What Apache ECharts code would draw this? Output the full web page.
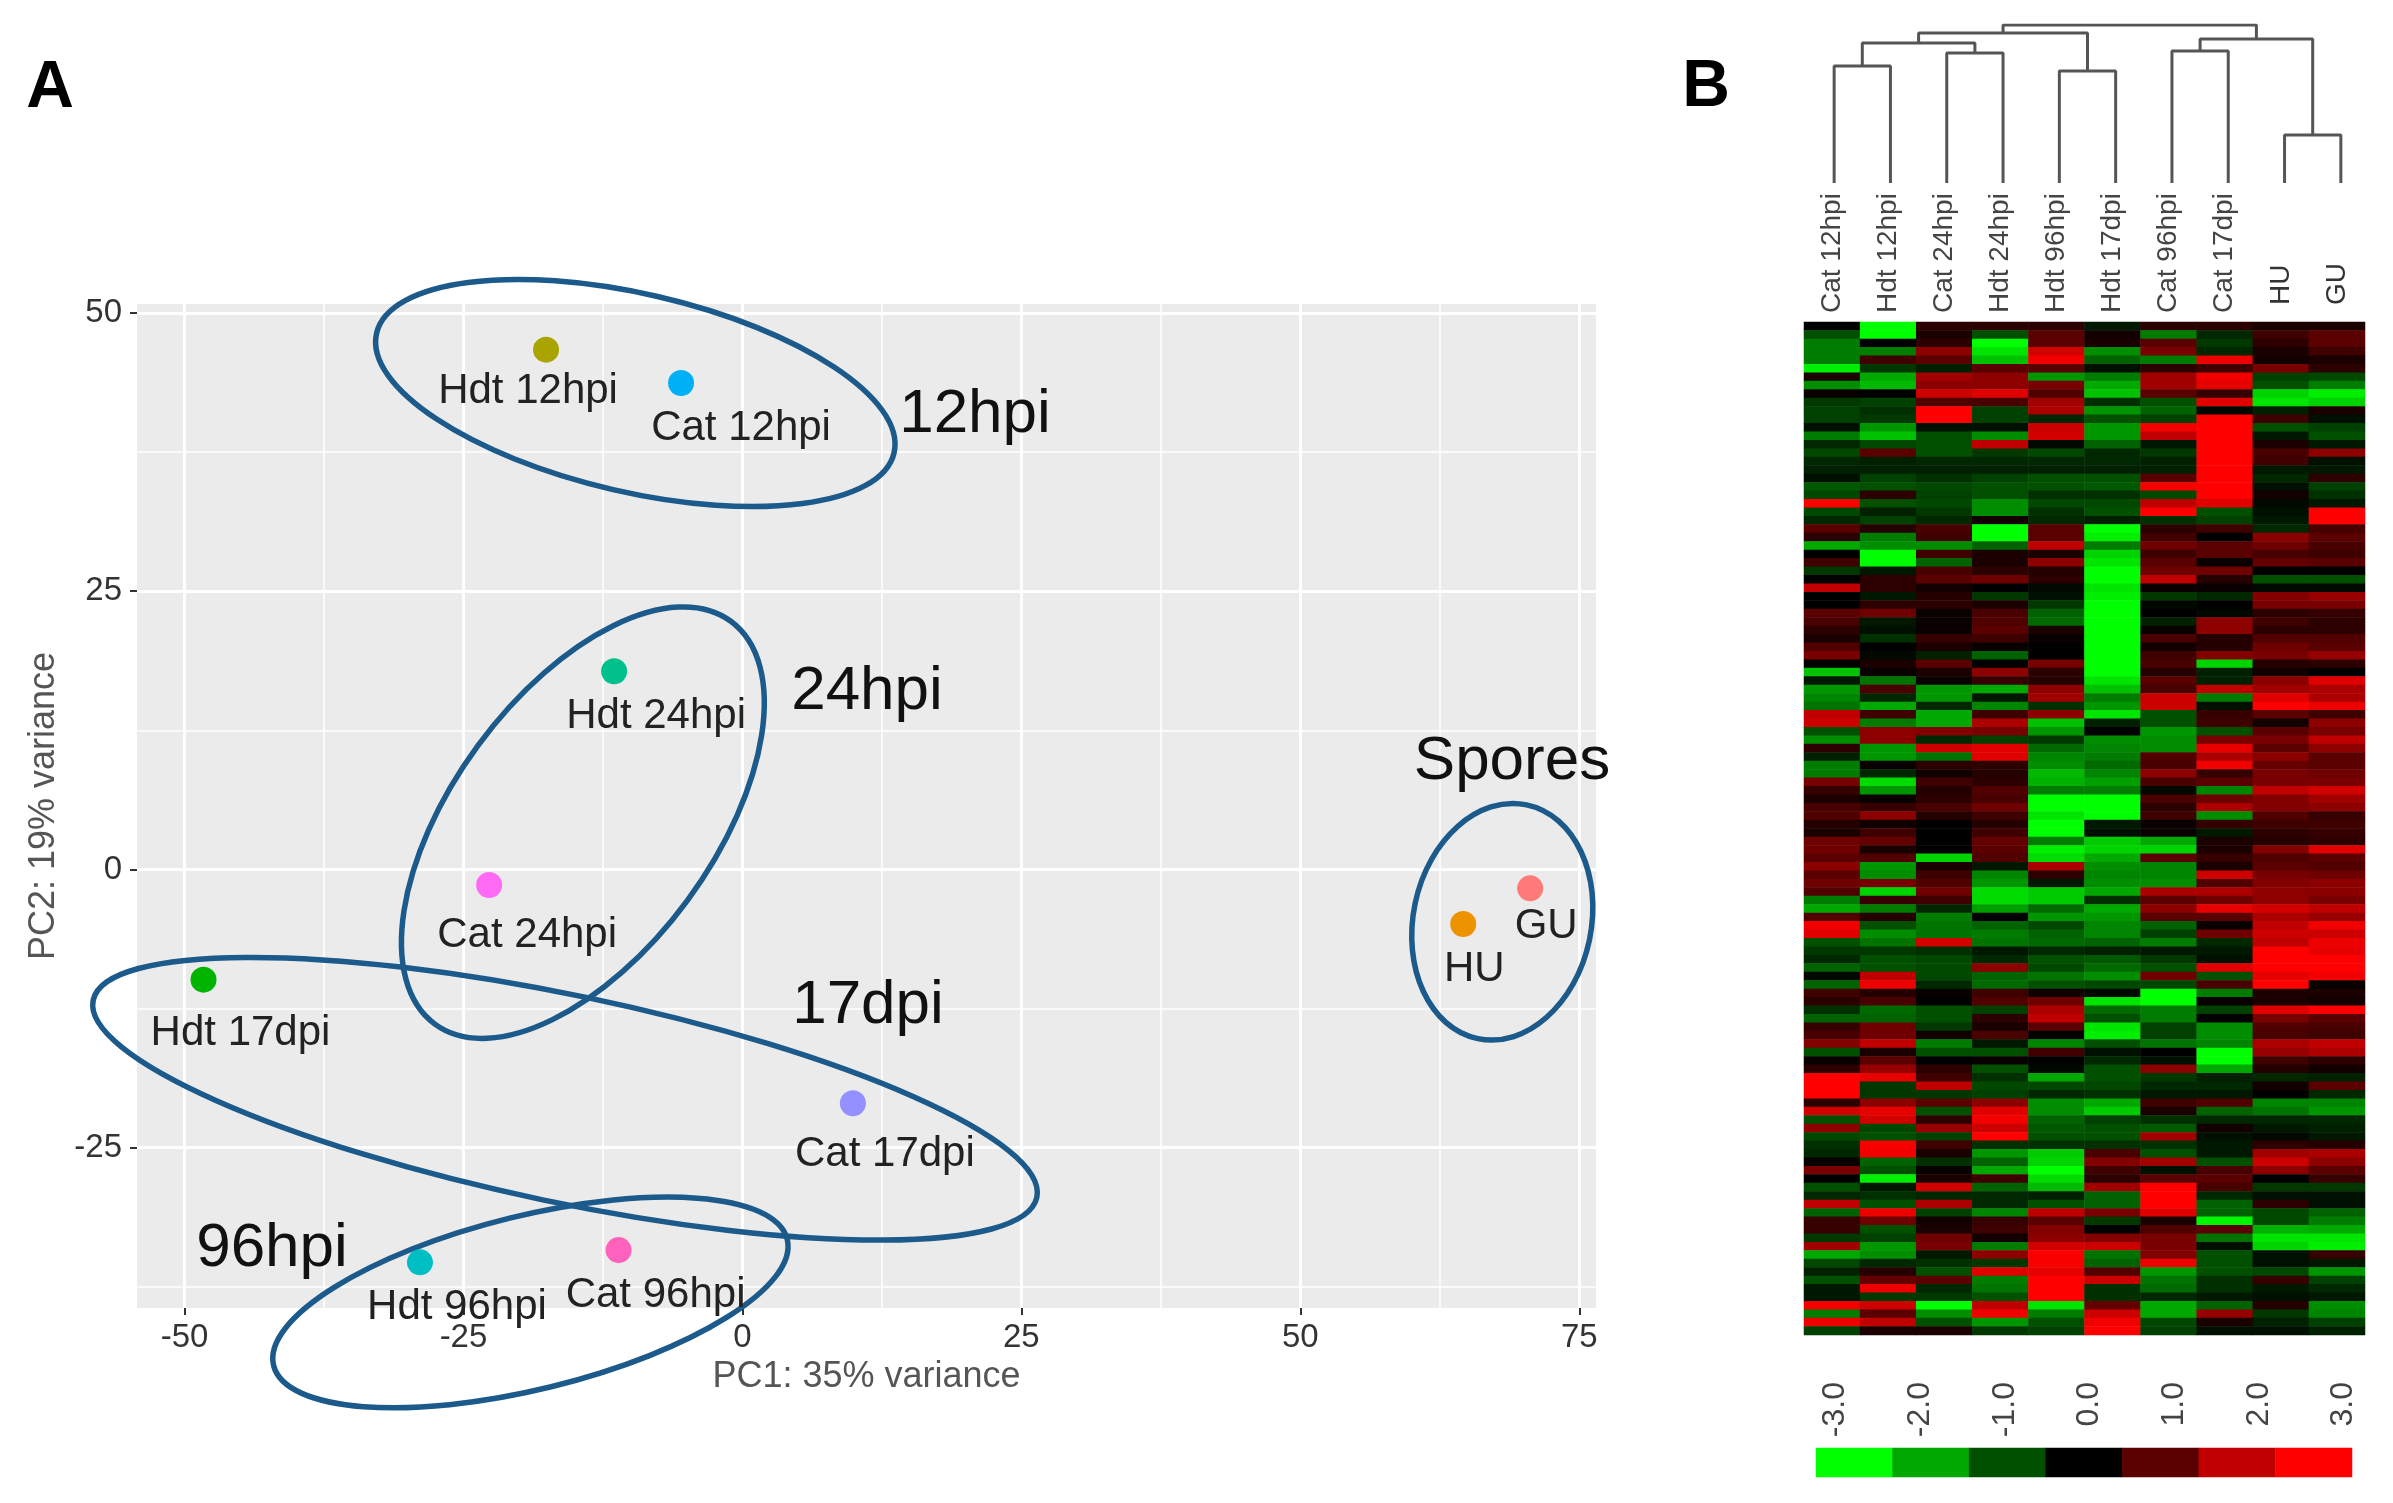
<!DOCTYPE html>
<html>
<head>
<meta charset="utf-8">
<title>PCA and heatmap</title>
<style>
html, body { margin: 0; padding: 0; background: #fff; }
#main { width: 2393px; height: 1503px; }
</style>
<script src="https://cdn.jsdelivr.net/npm/echarts@6/dist/echarts.min.js"></script>
</head>
<body>
<div id="main"></div>
<script>
// panel A
var pointNames = ['Hdt 12hpi', 'Cat 12hpi', 'Hdt 24hpi', 'Cat 24hpi', 'Hdt 17dpi', 'Cat 17dpi', 'Hdt 96hpi', 'Cat 96hpi', 'GU', 'HU'];
var pc1Values = [-17.6, -5.5, -11.5, -22.7, -48.3, 9.9, -28.9, -11.1, 70.6, 64.6];
var pc2Values = [46.7, 43.7, 17.8, -1.4, -9.9, -21, -35.3, -34.2, -1.7, -4.9];
var xTicks = [-50, -25, 0, 25, 50, 75];
var xMinorLines = [-37.5, -12.5, 12.5, 37.5, 62.5];
var yTicks = [-25, 0, 25, 50];
var yMinorLines = [-37.5, -12.5, 12.5, 37.5];
// group ellipses: pc1, pc2 centre, half axes, tilt in degrees
var ringCentersX = [-9.6, -14.3, -15.9, -19.0, 68.1];
var ringCentersY = [42.8, 4.2, -20.6, -38.9, -4.7];
var ringLong = [23.8, 22.4, 43.2, 23.7, 10.7];
var ringShort = [8.9, 11.7, 9.3, 7.8, 8.0];
var ringTilt = [13, -53.7, 11.8, -13.8, -78.2];

// panel B
var sampleNames = ['Cat 12hpi', 'Hdt 12hpi', 'Cat 24hpi', 'Hdt 24hpi', 'Hdt 96hpi', 'Hdt 17dpi', 'Cat 96hpi', 'Cat 17dpi', 'HU', 'GU'];
var legendValues = [-3, -2, -1, 0, 1, 2, 3];
// dendrogram joins: node a, node b, height (new nodes are numbered from 10)
var treeJoins = [[0, 1, 117], [2, 3, 130], [10, 11, 140], [4, 5, 112], [12, 13, 150], [6, 7, 132], [8, 9, 48], [15, 16, 144], [14, 17, 158]];
var heatRows = [
    [0, -3, 0.5, 0.5, 0.5, -0.3, 0.5, 0.5, 0.3, 0.3],
    [-1, -3, 0.3, -1, 1, 0.2, -1.5, -0.5, 0.7, 1],
    [-1.5, 0, 0.5, -3, 1, 0.3, 1, -0.7, 0.5, 1],
    [-1.5, -1.5, 1.5, -2.7, 2.3, -1.7, 1.3, -0.5, 0.3, 0.7],
    [-1.5, 0.7, 1, -2.3, 2.8, -1.2, -1.5, 2.7, 0.2, 0.3],
    [-2.8, -0.7, -0.4, 1, 1, -0.2, 0.5, 0.7, 1.3, 0.5],
    [0.3, -2, 1.7, 1.5, -1.8, -1.5, 1.7, 2.8, -0.8, -0.9],
    [-1.7, -2.2, 1.5, 1.5, 1.3, -2, 1.7, 2.6, -1, -1.5],
    [0.1, 0, 2.2, 2.5, 0.9, -2.3, 1, 0.6, -2.5, -2.8],
    [-0.7, -0.8, 0.9, 0.8, 1.7, -0.6, -1, 2.5, -2.7, -2.5],
    [-0.8, -0.6, 3, -0.8, 1.8, -1.8, -1.2, -0.1, -0.4, 0.3],
    [-0.8, -0.7, 3, -0.8, -0.5, -1, -0.8, 3, 0.7, -0.2],
    [-0.2, -1.8, -0.2, -0.2, 2.2, -1.8, 2.8, 3, -1, -0.8],
    [-1.5, -2.3, -1, -1.7, 2.3, -1.8, 2, 3, -0.3, -1],
    [-0.5, -0.9, -1, 2, -0.1, -1.2, -0.3, 3, 0.3, -0.3],
    [-0.9, 1, -1, -0.7, -0.9, -0.5, -0.7, 3, 0.8, 1.5],
    [-0.5, -0.4, -0.5, -0.5, -0.5, -0.5, -0.4, 3, 0.7, -0.2],
    [-0.4, -0.4, -0.4, -0.4, -0.4, -0.4, -0.4, 3, -0.3, -0.3],
    [-0.2, -0.8, -0.6, -0.8, -1, -1, 1, 3, -0.5, 0.5],
    [-1.1, -1, -0.9, -1, -1, -1.1, 2.9, 3, -0.2, -0.8],

    [-0.9, 0.5, -0.8, -1, -0.6, -0.6, -0.9, 3, 0.2, -0.6],
    [3, -1, -0.9, -1.7, -0.9, -0.9, 2, 2.5, -0.1, -0.3],
    [-0.9, -0.4, -0.7, -1.7, -0.6, -1, 3, -1, -0.2, 3],
    [-0.5, -0.8, -0.5, 0.2, -0.5, -0.4, -0.6, -0.8, -0.3, 3],
    [1, 0.4, 0.8, -3, 1, -3, 0.5, 0.7, -0.5, 0.8],
    [0.5, -1.5, 0.7, -3, 1, -2.8, 0.7, 0, 1.5, 1],
    [-2, -1.7, -1.7, -1.2, 2, -1.5, 1.2, 1, 1.2, 0.8],
    [0, -3, 0.7, 0.3, 0.3, -2.5, 0.7, 1, 0.8, 0.7],
    [0.7, -3, -1.2, 0.3, 1.5, -2.7, 1, 0.1, 1.1, 1],
    [-0.7, -0.3, 0.8, 0.5, 0.4, -3, 1.2, 1.2, 0, 0],
    [0, 0.5, 1, 1.2, 0.5, -3, 2, 0.4, -1, -1],
    [2, 0.5, 0.2, 0, -0.1, -2.7, 0.1, 0.1, -0.1, -0.1],
    [0, -0.3, 0.4, -0.7, -0.2, -2.8, -0.7, -0.5, 1.4, 1.6],
    [0, 0.5, 0.5, 0.3, -0.7, -3, -0.1, 0, 1.3, 1.3],
    [1, 1.2, 0.1, 0.8, -1.2, -3, 0, -0.1, 0.5, 0.6],
    [0.8, -0.3, 0.1, 0.9, -1.3, -3, -0.4, 1.5, 0.7, 0.5],
    [0.5, -0.2, 0.1, 1, 0.3, -3, 0.1, 1.5, 0.5, 0.5],
    [0.3, -0.6, 0.6, 0.7, 0.1, -3, 0.8, 0.4, 0.9, 0.9],
    [0.9, 0, 0.3, 0.1, 0, -3, 0.2, 0.4, 1.2, 1],
    [1.3, -0.1, -0.4, -1.2, 0, -3, 0.7, 1.4, 1.3, 1.6],

    [0, 0.3, 1, 0, 1.3, -3, 0.8, -2.5, 0.4, 0.5],
    [-2.3, 0.1, 0.3, 1.5, 0.5, -3, 0.4, -0.4, 0.2, 0],
    [-0.3, -1.4, 0.1, 0.6, 0.4, -2.7, 1, -0.4, 1.5, 2.5],
    [-1.8, 0.8, -1.8, -2, 1.5, -2.3, 0.8, 2, 1.7, 1.8],
    [-1.6, -0.5, -1.8, -0.3, 1.7, -1.5, 2.2, -1.5, 2.5, 1.8],
    [-1.4, -2, -0.5, -1.6, -0.6, -1.8, 2.2, -0.2, 3, 2.7],
    [2, 0.7, -2, 0.7, 1.5, -2.7, -1, 0.6, 1, 0.7],
    [2.2, -1.5, -2, 1.8, -2.3, -0.4, -1, 0.7, 0.2, 1.5],
    [-1, 1.5, 1.4, 1.3, -1.8, 0, -1.8, -1, 1, 1.3],
    [-1.7, 1.5, -0.5, -0.8, -0.7, -1.7, -1.7, 1.3, 1.3, 2],
    [0.5, -1.8, 2.2, 2.5, -1.3, -1.6, -1.7, 2.6, 1, 1.5],
    [-0.4, -1.8, -1.4, 2.5, -1.6, -1.5, 0.9, 1.8, 1.5, 1],
    [-1.5, 0.1, 0.5, 0.5, -1.7, -1.3, 0.8, 2.8, 1.1, 1],
    [-1.5, -0.5, 0.2, 0.4, -2.2, -1.6, 1.5, 0.6, 1.3, 1.2],
    [1.3, -2.6, 0.7, 0.5, -2.1, -1.9, 0.8, 1, 1.3, 1.3],
    [0.6, -1.8, 0.4, 0.9, -1.5, -1.5, -0.1, -1.6, 2, 2.3],
    [0.3, 0.1, 0.5, 0.8, -3, -3, 0.8, 1.2, 1.4, 1.7],
    [0.8, 0.6, 0.8, 1.2, -3, -3, 0.5, 1.8, 1.4, 1.5],
    [0.9, 1.5, 0.4, 0.7, -2.7, -3, 0.7, -1.7, 0.9, 0.6],
    [0.4, 0.2, 0, 0.4, -3, -0.3, 0.1, 0.6, 0.7, 0.7],

    [0.3, 0.7, 0, 0.7, -3, -0.2, 0.1, -0.3, 0.5, 0.6],
    [1.2, 1.1, 0, 1.1, -1.5, -2.4, -2, 0.3, 0.4, 0.5],
    [1.2, 0.3, 0, 1, -2.8, -2.5, -2.5, 0.3, 1.4, 2.5],
    [1, 0.9, -2.5, 0.9, -2.6, -2, 1, 0.6, 0.9, 1],
    [1.5, -1.8, 0.3, -0.3, 1.8, -1.7, -1.6, 0.3, 1, 0.9],
    [1, -1.7, 0.7, -1.6, 0.5, -1.6, -1.6, 2.2, 1.3, 1.2],
    [1.2, 1.3, 0.9, -1.8, -0.3, -1.7, -1.7, 0.9, 1.4, 1.5],
    [0.9, -2.5, 1.2, -2.6, -2.4, -2, 1.8, 1.8, 1.5, 1.5],
    [-1.5, 0.6, 0.7, -2.6, -2.4, -0.6, 1, 1.2, 1.5, 1.3],
    [-2, -1.5, -0.5, -1.9, -1.3, -2, 1.5, 2.6, 2.3, 2],
    [0.9, 0.4, -1.5, 0, -1.8, -1.8, 1, 1, 1.8, 1.6],
    [2.8, -1, -1.4, -1.2, -0.9, -1.6, -1.2, 0.1, 2, 2.8],
    [2.5, -1.7, -1.4, -1.5, -1.2, -1.6, -0.8, 1.2, 2.2, 2.2],
    [-1, -1.4, 2.3, -1.4, -1.3, -1.2, -1.5, -0.5, 2, 2.7],
    [-0.7, -0.7, -0.6, -0.3, -0.5, -0.4, -0.3, -0.3, 3, 2.6],
    [-0.5, -1, -0.9, -0.5, -1, -1.1, -0.7, -0.2, 3, 3],
    [-1.2, -1, -0.9, 1.5, -0.9, -1.3, -1, 2.5, 3, 3],
    [-0.1, 2, -0.9, -1.2, -1.4, -1.7, 1.2, -1, 2.6, 2.8],
    [-1.2, 2.7, -0.5, -1.3, -1, -0.9, -0.9, 0.8, 3, 0.1],
    [0.7, 0.4, 0.1, 0.7, 0.2, -0.1, -3, -1.5, 0.3, 0.3],

    [0.5, 0.8, 0, 0.9, 1.2, -2.7, -3, 0.1, 0.3, 0.2],
    [-0.6, -1.3, -1, -0.8, 1.8, -1.3, -1.5, -0.8, 2.5, 3],
    [-1.2, -1.2, -1, 0.5, 2, -1, -1.5, 0, 1.3, 1],
    [0.6, 1.2, -0.7, 0.3, 1, -2.7, -0.8, -1.7, 0.9, 0.8],
    [0.8, 1.2, 0.2, 0.8, 0, -2.8, -0.8, -1.7, 0.8, 0.7],
    [1.4, 2, -1.5, -0.3, -1.6, -1, -1.4, -1.6, 1.8, 2],
    [-1, 0.3, -1, -1, 0.7, -0.2, 0, -3, 1.6, 1.8],
    [0.1, 1, 0, 0.1, 0, -0.5, -0.2, -3, 0.7, 0.5],
    [0.5, 1.6, 0.5, -1, -0.1, -1, 1.5, -2, 0.4, 0.2],
    [3, 2.6, 0.7, -0.6, -2, -1, -0.7, -0.4, -0.5, -0.4],
    [3, -0.7, 2, -0.9, -0.9, -0.9, -0.5, -0.5, 0.2, 1],
    [3, -0.7, -0.7, -0.8, -0.5, -0.6, -0.3, -0.3, 0, -0.5],
    [0.5, 1.5, 1, 1.5, -1.7, -2, 0.7, 0.9, -1.6, -1.6],
    [2.3, 2.6, -1, 2.5, -1.7, -2.4, 0.3, -1.2, -1.4, -1.8],
    [-1, 2.3, 0.5, 2.8, -1.2, -0.8, -0.6, -0.5, -0.5, -0.5],
    [1.5, -0.9, 1.6, 2.2, -1.1, -1, -1.1, 0.2, -0.3, -0.4],
    [-0.9, -1, -0.8, 3, -1, -1, 1.7, -0.2, -0.1, -0.3],
    [-0.6, 2.9, 0.7, -0.6, -0.6, -0.6, -0.6, -0.3, 0.5, 0.4],
    [-0.5, 2.8, 0.3, -1.8, -2.4, 0.8, -1, -0.3, 1.7, 1.8],
    [0.1, -1.2, -0.6, -1.2, -2.5, 1.4, 1.7, -1, 2.2, 1.5],

    [1.3, -1, 0.1, -2, -3, 0.7, -0.2, 0.8, 1.5, 1],
    [0, -2.8, 0.3, 0.7, -2.6, 0.5, 1, 1, 0, 0.6],
    [-1, -0.3, 2.3, -1.2, -2.2, 1.7, 3, 0.8, -0.7, -0.7],
    [-0.5, -0.6, -0.5, -0.5, -0.4, -1.2, 3, -0.5, -0.2, -0.2],
    [2, -1, 1.8, -0.5, -1, -1.2, 3, -1.2, 0.5, -0.2],
    [-1.2, 2.7, -0.8, -1.6, 2, 1.3, 2.5, -1.2, -0.9, -1.2],
    [0.6, 1.2, 0.2, 0.6, 1, -0.7, 0.3, -2.9, -0.9, -1.5],
    [0.6, -1, 0.3, 0.7, 1.4, 0, 0.9, 1, -2.1, -2],
    [-0.7, -0.8, 1.2, 0.2, 1.5, 1.4, 1.3, -1.4, -2.7, -2.7],
    [1.7, -1.8, 1.3, -1.5, 2.3, 2.2, 1.3, -0.2, -2.5, -2.8],
    [-2, -1.7, -0.3, 1.5, 2.9, -1.4, 1.4, -1, -0.2, 0.6],
    [-0.9, -0.5, -0.6, -0.7, 2.9, -1.2, 2.7, -1, -0.2, -0.3],
    [-0.4, 0.4, -1, 2.5, 2.6, 0.9, -1.8, -1, -0.9, -1.8],
    [-1, 1.1, 1, -1.5, 3, 2.2, -1.4, -0.6, 0.6, -0.8],
    [-0.3, 2.7, -0.5, -1.4, 3, -0.6, -1.3, -0.6, -0.3, -0.5],
    [-0.3, -0.7, -0.7, -1, 3, -0.6, -0.5, -0.3, -0.2, -0.3],
    [2.8, 2.2, -3, 2, -2.7, 1.1, -2, -1.2, 0.4, -1.7],
    [-1.5, 1, -1.7, 2.8, -1.5, 2.2, -2, 1.6, -0.7, -1.6],
    [2.7, 2, -1, -1.8, -1, 2.8, -0.9, 0.3, -0.4, -0.8],
    [-0.8, 0.3, 0.3, -0.7, -0.8, 3, -0.8, -0.2, -0.2, -0.4]
];

var FONT = '"Liberation Sans", Arial, sans-serif';
var pointColors = ['#a9a400', '#00b0f6', '#00c08b', '#ff6af5', '#00b400', '#9590ff', '#00bfc4', '#ff62bc', '#ff7a78', '#ee9300'];
// offset of each point's text from its dot, px
var labelShift = [[-18, 42], [60, 45], [42, 45], [38, 50], [37, 54], [32, 51], [37, 45], [37, 45], [16, 38], [11, 45]];

function bigText(text, x, y) {
    return { type: 'text', x: x, y: y, z: 20, style: { text: text, fill: '#111', font: '62px ' + FONT, align: 'center', verticalAlign: 'middle' } };
}
function letter(text, x, y) {
    return { type: 'text', x: x, y: y, z: 20, style: { text: text, fill: '#000', font: 'bold 66px ' + FONT, align: 'center', verticalAlign: 'middle' } };
}

function drawRing(params, api) {
    var c = api.coord([api.value(0), api.value(1)]);
    var unit = api.size([1, 1]);
    return {
        type: 'ellipse',
        x: c[0],
        y: c[1],
        rotation: -api.value(4) * Math.PI / 180,
        shape: { cx: 0, cy: 0, rx: api.value(2) * unit[0], ry: api.value(3) * unit[1] },
        style: { fill: 'none', stroke: '#1b5a8a', lineWidth: 5.5 },
        z2: 10
    };
}

// one bracket per join of the dendrogram
function treeSeries() {
    var spots = [];
    var list = [];
    for (var i = 0; i < 10; i++) spots.push([i, 0]);
    treeJoins.forEach(function (j) {
        var a = spots[j[0]], b = spots[j[1]];
        list.push({
            type: 'line',
            xAxisIndex: 3,
            yAxisIndex: 3,
            symbol: 'none',
            silent: true,
            lineStyle: { color: '#555', width: 3 },
            data: [[a[0], a[1]], [a[0], j[2]], [b[0], j[2]], [b[0], b[1]]]
        });
        spots.push([(a[0] + b[0]) / 2, j[2]]);
    });
    return list;
}

var heatData = [];
heatRows.forEach(function (row, r) {
    row.forEach(function (v, c) { heatData.push([c, r, v]); });
});

var hidden = { show: false };
var noLine = { show: false, onZero: false };
var myChart = echarts.init(document.getElementById('main'));
var option = {
    animation: false,
    backgroundColor: '#fff',
    textStyle: { fontFamily: FONT },
    grid: [
        { left: 137, top: 304, width: 1459, height: 1004, show: true, backgroundColor: '#ebebeb', borderWidth: 0 },
        { left: 1804, top: 322, width: 561, height: 1013 },
        { left: 1806, top: 25, width: 563, height: 158 },
        { left: 1816, top: 1448, width: 536, height: 29 }
    ],
    xAxis: [
        {
            gridIndex: 0, type: 'value', min: -54.26, max: 76.5, position: 'bottom',
            name: 'PC1: 35% variance', nameLocation: 'middle', nameGap: 49,
            nameTextStyle: { fontSize: 36, color: '#555', fontFamily: FONT },
            axisLine: noLine,
            axisTick: { show: true, length: 7, lineStyle: { color: '#333', width: 2 }, customValues: xTicks },
            axisLabel: { fontSize: 33, color: '#333', margin: 13, fontFamily: FONT, customValues: xTicks, showMinLabel: true, showMaxLabel: true },
            splitLine: { show: true, lineStyle: { color: '#fff', width: 3 } }
        },
        {
            gridIndex: 0, type: 'value', min: -54.26, max: 76.5, position: 'top',
            axisLine: noLine, axisLabel: hidden,
            axisTick: { show: false, customValues: xMinorLines },
            splitLine: { show: true, lineStyle: { color: '#fff', width: 1.5 } }
        },
        {
            gridIndex: 1, type: 'category', data: sampleNames, position: 'top',
            axisLine: noLine, axisTick: hidden, splitLine: hidden,
            axisLabel: {
                rotate: -90, interval: 0, fontSize: 28, color: '#444', margin: 9, fontFamily: FONT,
                formatter: function (v) { return v.length < 3 ? '{spore|' + v + '}' : v; },
                rich: { spore: { fontSize: 28, color: '#333', fontFamily: FONT, padding: [0, 0, 0, 8] } }
            }
        },
        { gridIndex: 2, type: 'value', min: -0.5, max: 9.5, show: false },
        {
            gridIndex: 3, type: 'category', data: legendValues,
            axisLine: noLine, axisTick: hidden, axisLabel: hidden, splitLine: hidden
        },
        {
            gridIndex: 3, type: 'value', min: -3.23, max: 3.1, position: 'top',
            axisLine: noLine, splitLine: hidden,
            axisTick: { show: false, customValues: legendValues },
            axisLabel: {
                rotate: -90, align: 'right', fontSize: 32, color: '#444', margin: 66, fontFamily: FONT,
                customValues: legendValues, showMinLabel: true, showMaxLabel: true,
                formatter: function (v) { return v.toFixed(1); }
            }
        }
    ],
    yAxis: [
        {
            gridIndex: 0, type: 'value', min: -39.4, max: 50.8,
            name: 'PC2: 19% variance', nameLocation: 'middle', nameGap: 75,
            nameTextStyle: { fontSize: 36, color: '#555', fontFamily: FONT },
            axisLine: noLine,
            axisTick: { show: true, length: 7, lineStyle: { color: '#333', width: 2 }, customValues: yTicks },
            axisLabel: { fontSize: 33, color: '#333', margin: 15, fontFamily: FONT, padding: [12, 0, 0, 0], customValues: yTicks, showMinLabel: true, showMaxLabel: true },
            splitLine: { show: true, lineStyle: { color: '#fff', width: 3 } }
        },
        {
            gridIndex: 0, type: 'value', min: -39.4, max: 50.8, position: 'right',
            axisLine: noLine, axisLabel: hidden,
            axisTick: { show: false, customValues: yMinorLines },
            splitLine: { show: true, lineStyle: { color: '#fff', width: 1.5 } }
        },
        {
            gridIndex: 1, type: 'category', inverse: true,
            data: heatRows.map(function (row, r) { return r; }),
            show: false
        },
        { gridIndex: 2, type: 'value', min: 0, max: 158, show: false },
        { gridIndex: 3, type: 'category', data: ['scale'], show: false }
    ],
    visualMap: {
        show: false,
        seriesIndex: [2, 3],
        min: -3,
        max: 3,
        inRange: { color: ['#00ff00', '#00a800', '#005000', '#000000', '#5a0000', '#c00000', '#ff0000'] }
    },
    graphic: {
        elements: [
            letter('A', 50, 89),
            letter('B', 1706, 88),
            bigText('12hpi', 975, 415),
            bigText('24hpi', 867, 692),
            bigText('17dpi', 868, 1006),
            bigText('96hpi', 272, 1249),
            bigText('Spores', 1512, 762)
        ]
    },
    series: [
        {
            type: 'scatter',
            xAxisIndex: 0,
            yAxisIndex: 0,
            symbolSize: 26,
            silent: true,
            data: pointNames.map(function (name, i) {
                return {
                    name: name,
                    value: [pc1Values[i], pc2Values[i]],
                    itemStyle: { color: pointColors[i], opacity: 1 },
                    label: {
                        show: true,
                        position: 'inside',
                        offset: labelShift[i],
                        formatter: name,
                        fontSize: 42,
                        color: '#222',
                        fontFamily: FONT
                    }
                };
            })
        },
        {
            type: 'custom',
            xAxisIndex: 0,
            yAxisIndex: 0,
            silent: true,
            clip: false,
            renderItem: drawRing,
            encode: { x: 0, y: 1 },
            data: ringCentersX.map(function (x, i) {
                return [x, ringCentersY[i], ringLong[i], ringShort[i], ringTilt[i]];
            })
        },
        {
            type: 'heatmap',
            xAxisIndex: 2,
            yAxisIndex: 2,
            silent: true,
            data: heatData
        },
        {
            type: 'heatmap',
            xAxisIndex: 4,
            yAxisIndex: 4,
            silent: true,
            data: legendValues.map(function (v, i) { return [i, 0, v]; })
        }
    ].concat(treeSeries())
};
myChart.setOption(option);
</script>
</body>
</html>
